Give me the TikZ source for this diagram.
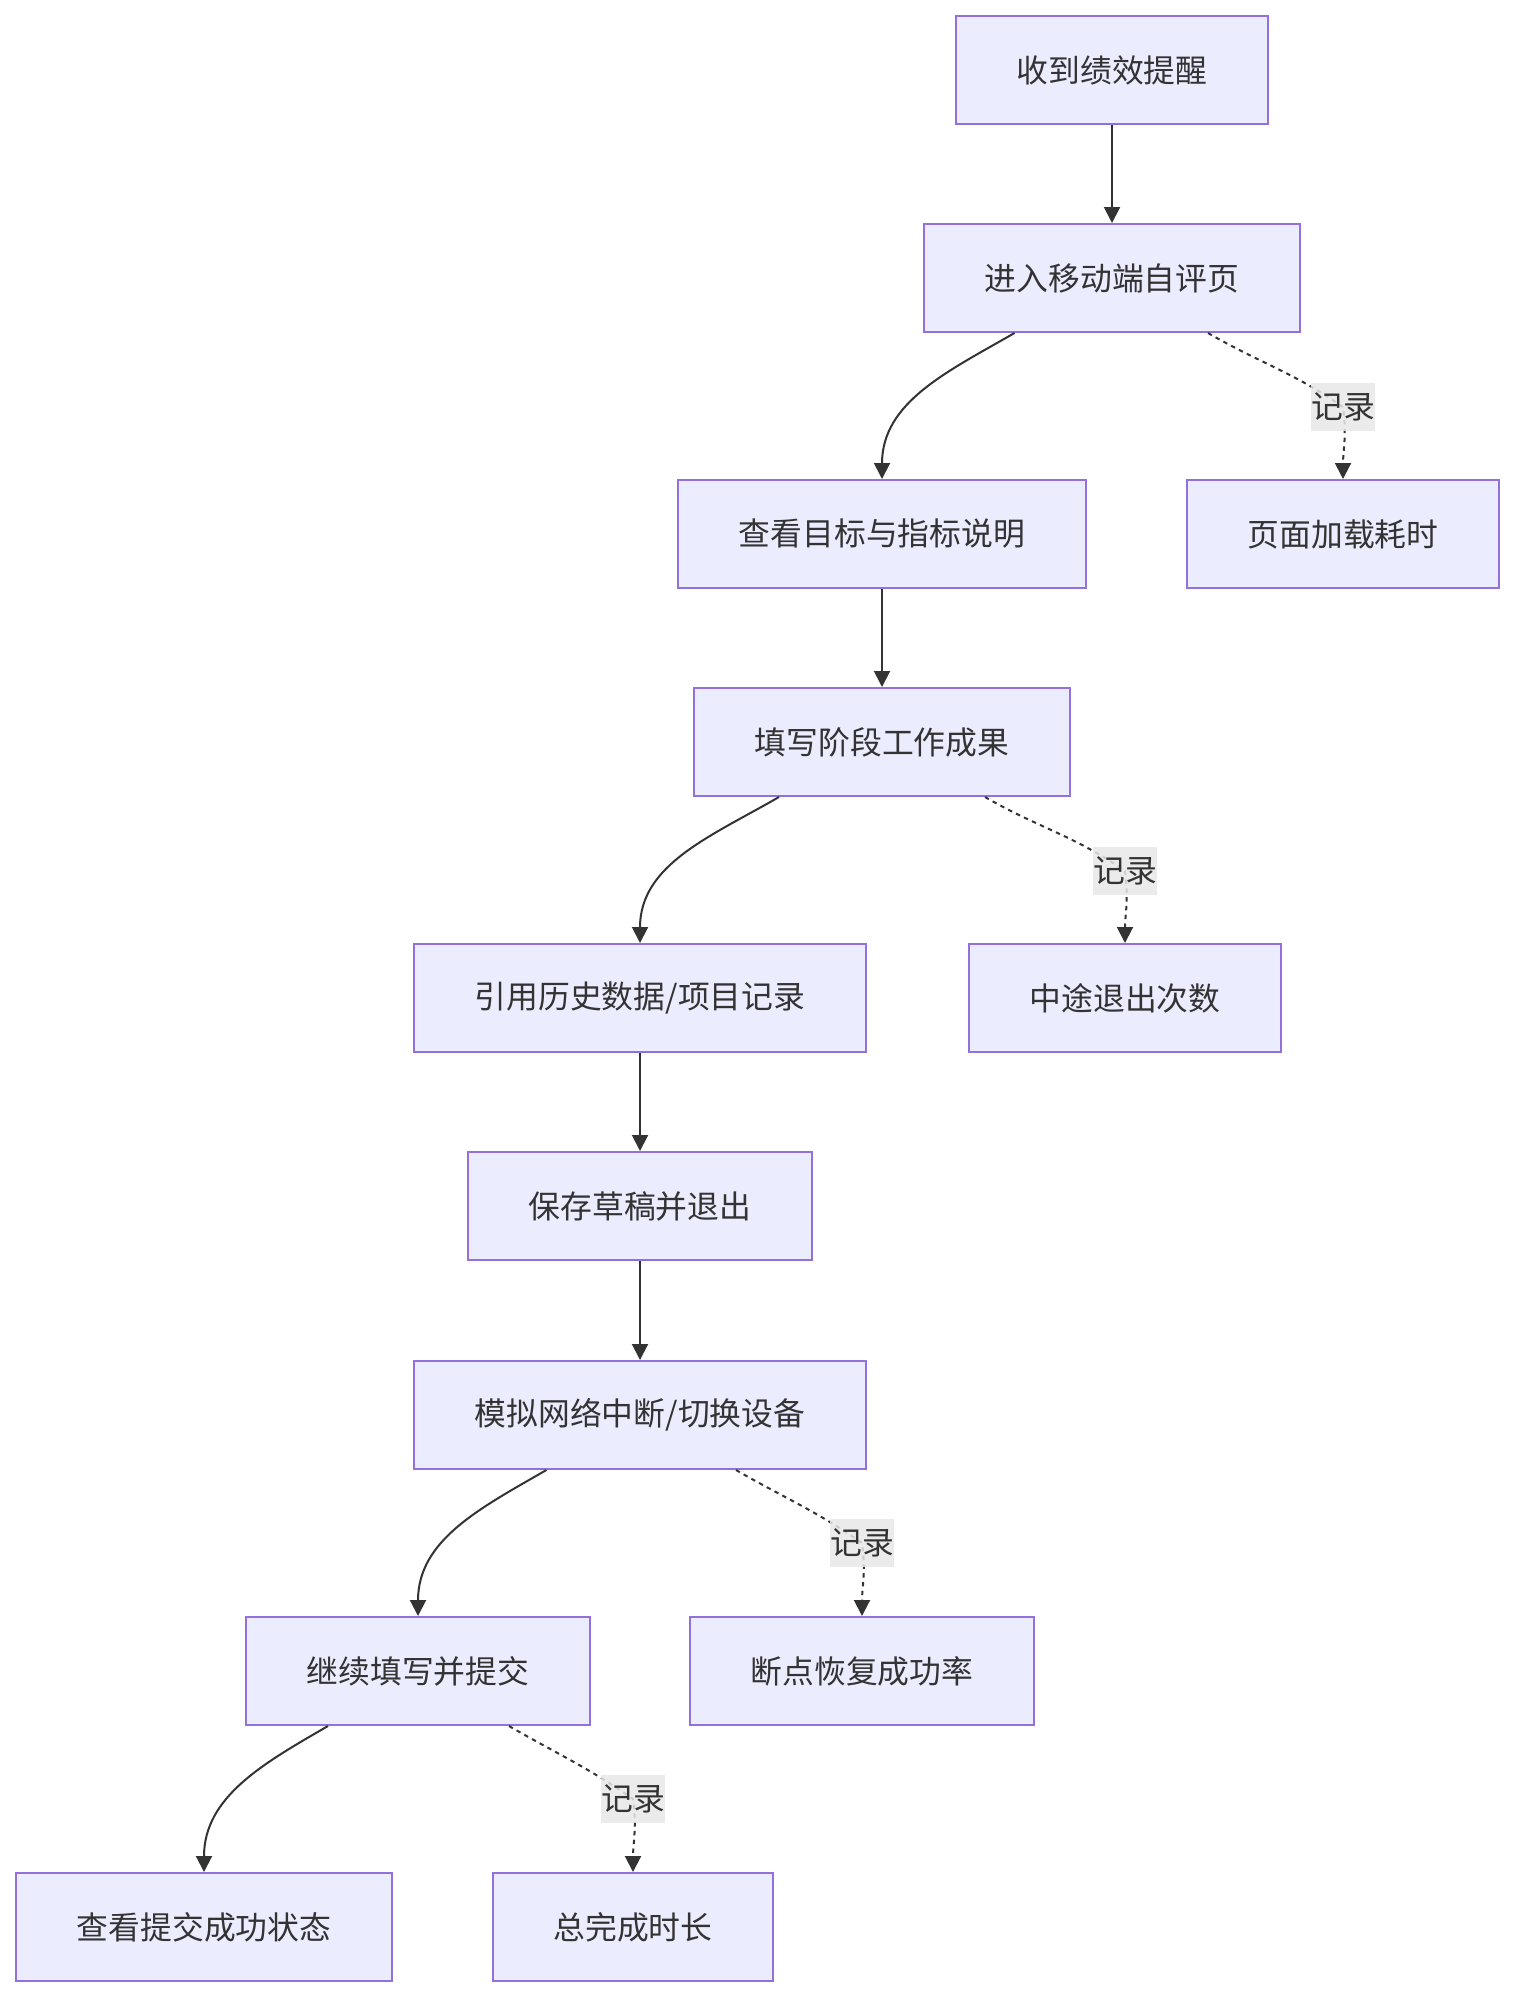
\documentclass[tikz,border=0pt]{standalone}
\usepackage{fontspec}
\newfontfamily\cjk{Noto Sans CJK SC}
\usetikzlibrary{arrows.meta}
\definecolor{lavender}{RGB}{236,236,255}
\definecolor{purpleline}{RGB}{147,112,219}
\definecolor{ink}{RGB}{51,51,51}
\definecolor{tagbg}{RGB}{232,232,232}

\begin{document}
\begin{tikzpicture}[
  x=.5pt, y=.5pt,
  act/.style={
    draw=purpleline,
    line width=1pt,
    fill=lavender,
    minimum height=54pt,
    inner xsep=30.25pt,
    text=ink,
    font=\cjk\fontsize{15.9pt}{19pt}\selectfont
  },
  note/.style={
    fill=tagbg,
    fill opacity=.85,
    text opacity=1,
    inner sep=0pt,
    minimum height=24pt,
    text=ink,
    font=\cjk\fontsize{15.9pt}{19pt}\selectfont
  },
  flow/.style={-{Triangle[length=8pt,width=8pt]},draw=ink,line width=1pt},
  rec/.style={flow,dash pattern=on 2.2pt off 2.2pt}
]
\useasboundingbox (0,0) rectangle (1514,-1996);

\node[act] (remind) at (1112,-70) {收到绩效提醒};
\node[act] (enter) at (1112,-278) {进入移动端自评页};
\node[act] (goal) at (882,-534) {查看目标与指标说明};
\node[act] (load) at (1343,-534) {页面加载耗时};
\node[act] (fillin) at (882,-742) {填写阶段工作成果};
\node[act] (cite) at (640,-998) {引用历史数据/项目记录};
\node[act] (quit) at (1125,-998) {中途退出次数};
\node[act] (draft) at (640,-1206) {保存草稿并退出};
\node[act] (cut) at (640,-1415) {模拟网络中断/切换设备};
\node[act] (submit) at (418,-1671) {继续填写并提交};
\node[act] (resume) at (862,-1671) {断点恢复成功率};
\node[act] (done) at (204,-1927) {查看提交成功状态};
\node[act] (total) at (633,-1927) {总完成时长};

\coordinate (r1) at (1343,-407);
\coordinate (r2) at (1125,-871);
\coordinate (r3) at (862,-1543);
\coordinate (r4) at (633,-1799);

% main path
\draw[flow] (remind) -- (enter);
\draw[flow] ([xshift=-48.75pt]enter.south) to[out=-150,in=90] (goal.north);
\draw[flow] (goal) -- (fillin);
\draw[flow] ([xshift=-51.5pt]fillin.south) to[out=-150,in=90] (cite.north);
\draw[flow] (cite) -- (draft);
\draw[flow] (draft) -- (cut);
\draw[flow] ([xshift=-46.8pt]cut.south) to[out=-150,in=90] (submit.north);
\draw[flow] ([xshift=-45pt]submit.south) to[out=-150,in=90] (done.north);

% metrics
\draw[rec] ([xshift=48pt]enter.south) to[out=-30,in=145] (r1) to[out=-82,in=90] (load.north);
\draw[rec] ([xshift=51.5pt]fillin.south) to[out=-30,in=145] (r2) to[out=-82,in=90] (quit.north);
\draw[rec] ([xshift=48pt]cut.south) to[out=-30,in=145] (r3) to[out=-82,in=90] (resume.north);
\draw[rec] ([xshift=45.5pt]submit.south) to[out=-30,in=145] (r4) to[out=-82,in=90] (total.north);

\node[note] at (r1) {记录};
\node[note] at (r2) {记录};
\node[note] at (r3) {记录};
\node[note] at (r4) {记录};
\end{tikzpicture}
\end{document}
